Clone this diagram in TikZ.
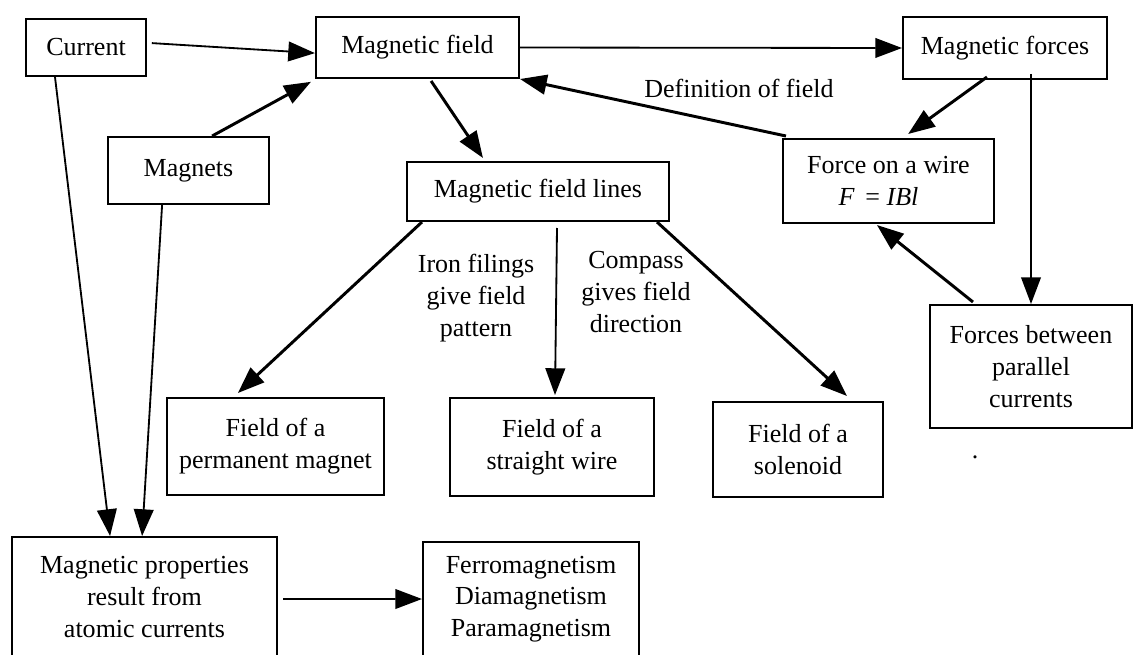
\documentclass[tikz,border=0pt]{standalone}
\usepackage{fontspec}
\setmainfont{Liberation Serif}
\usetikzlibrary{arrows.meta}
\tikzset{>={Triangle[length=19pt,width=14pt]}}
\tikzset{box/.style={draw, line width=1.4pt, align=center, inner sep=2pt},
  link/.style={->, line width=1.3pt},
  heavylink/.style={->, line width=2.1pt},
  lbl/.style={align=center, inner sep=0pt}}

\begin{document}
\begin{tikzpicture}[x=0.025cm, y=-0.025cm, font=\fontsize{18.5pt}{22.6pt}\selectfont]
      \clip (0,0) rectangle (1134,654);
      \node (cur) at (86,47.5) [box, minimum width=3cm, minimum height=1.425cm] {Current};
      \node (field) at (417.5,47.5) [box, minimum width=5.075cm, minimum height=1.525cm] {Magnetic field};
      \node (forces) at (1005,48) [box, minimum width=5.1cm, minimum height=1.55cm] {Magnetic forces};
      \node (magnets) at (188.5,170.5) [box, minimum width=4.025cm, minimum height=1.675cm] {Magnets};
      \node (flines) at (538,191.5) [box, minimum width=6.55cm, minimum height=1.475cm] {Magnetic field lines};
      \node (wire) at (888.5,181) [box, minimum width=5.275cm, minimum height=2.1cm] {Force on a wire\\\textit{F}\ \,= \textit{IBl}\hspace*{0.5cm}};
      \node (par) at (1031,366.5) [box, minimum width=5.05cm, minimum height=3.075cm] {Forces between\\parallel\\currents};
      \node (perm) at (275.5,446.5) [box, minimum width=5.425cm, minimum height=2.425cm] {Field of a\\permanent magnet};
      \node (straight) at (552,447) [box, minimum width=5.1cm, minimum height=2.45cm] {Field of a\\straight wire};
      \node (sol) at (798,449.5) [box, minimum width=4.25cm, minimum height=2.375cm] {Field of a\\solenoid};
      \node (props) at (144.5,597) [box, minimum width=6.625cm, minimum height=3cm] {Magnetic properties\\result from\\atomic currents};
      \node (ferro) at (531,599) [box, minimum width=5.4cm, minimum height=2.85cm] {Ferromagnetism\\Diamagnetism\\Paramagnetism};
      \node (deflbl) at (739,88) [lbl] {Definition of field};
      \node (ironlbl) at (476,298) [lbl] {Iron filings\\give field\\pattern};
      \node (compasslbl) at (636,292) [lbl] {Compass\\gives field\\direction};
      \node (dot) at (975,457) [lbl] {.};
      \coordinate (fdown) at (forces.south -| par.north);
      \draw[link] ([xshift=0.12cm,yshift=0.11cm]cur.east) -- ([yshift=-0.14cm]field.west);
      \draw[heavylink] ([xshift=0.59cm]magnets.north) -- ([xshift=-0.1cm,yshift=-0.07cm]field.south west);
      \draw[link] (field.east) -- (forces.west);
      \draw[heavylink] ([xshift=0.1cm,yshift=0.05cm]wire.north west) -- (field.south east);
      \draw[heavylink] ([xshift=0.34cm,yshift=-0.05cm]field.south) -- ([xshift=-1.375cm,yshift=0.075cm]flines.north);
      \draw[heavylink] ([xshift=-0.45cm,yshift=0.075cm]forces.south) -- ([xshift=0.49cm,yshift=0.1cm]wire.north);
      \draw[link] ([yshift=0.15cm]fdown) -- (par.north);
      \draw[heavylink] ([xshift=-1.45cm,yshift=0.05cm]par.north) -- ([xshift=-0.29cm,yshift=-0.025cm]wire.south);
      \draw[heavylink] ([xshift=0.4cm]flines.south west) -- ([xshift=-0.94cm,yshift=0.1cm]perm.north);
      \draw[link] ([xshift=0.475cm,yshift=-0.15cm]flines.south) -- ([xshift=0.075cm,yshift=0.05cm]straight.north);
      \draw[heavylink] ([xshift=-0.325cm]flines.south east) -- ([xshift=1.225cm,yshift=0.125cm]sol.north);
      \draw[link] ([xshift=-0.775cm]cur.south) -- ([xshift=-0.86cm]props.north);
      \draw[link] ([xshift=-0.66cm]magnets.south) -- ([xshift=-0.06cm]props.north);
      \draw[link] ([xshift=0.125cm,yshift=-0.05cm]props.east) -- (ferro.west);
    \end{tikzpicture}
\end{document}
